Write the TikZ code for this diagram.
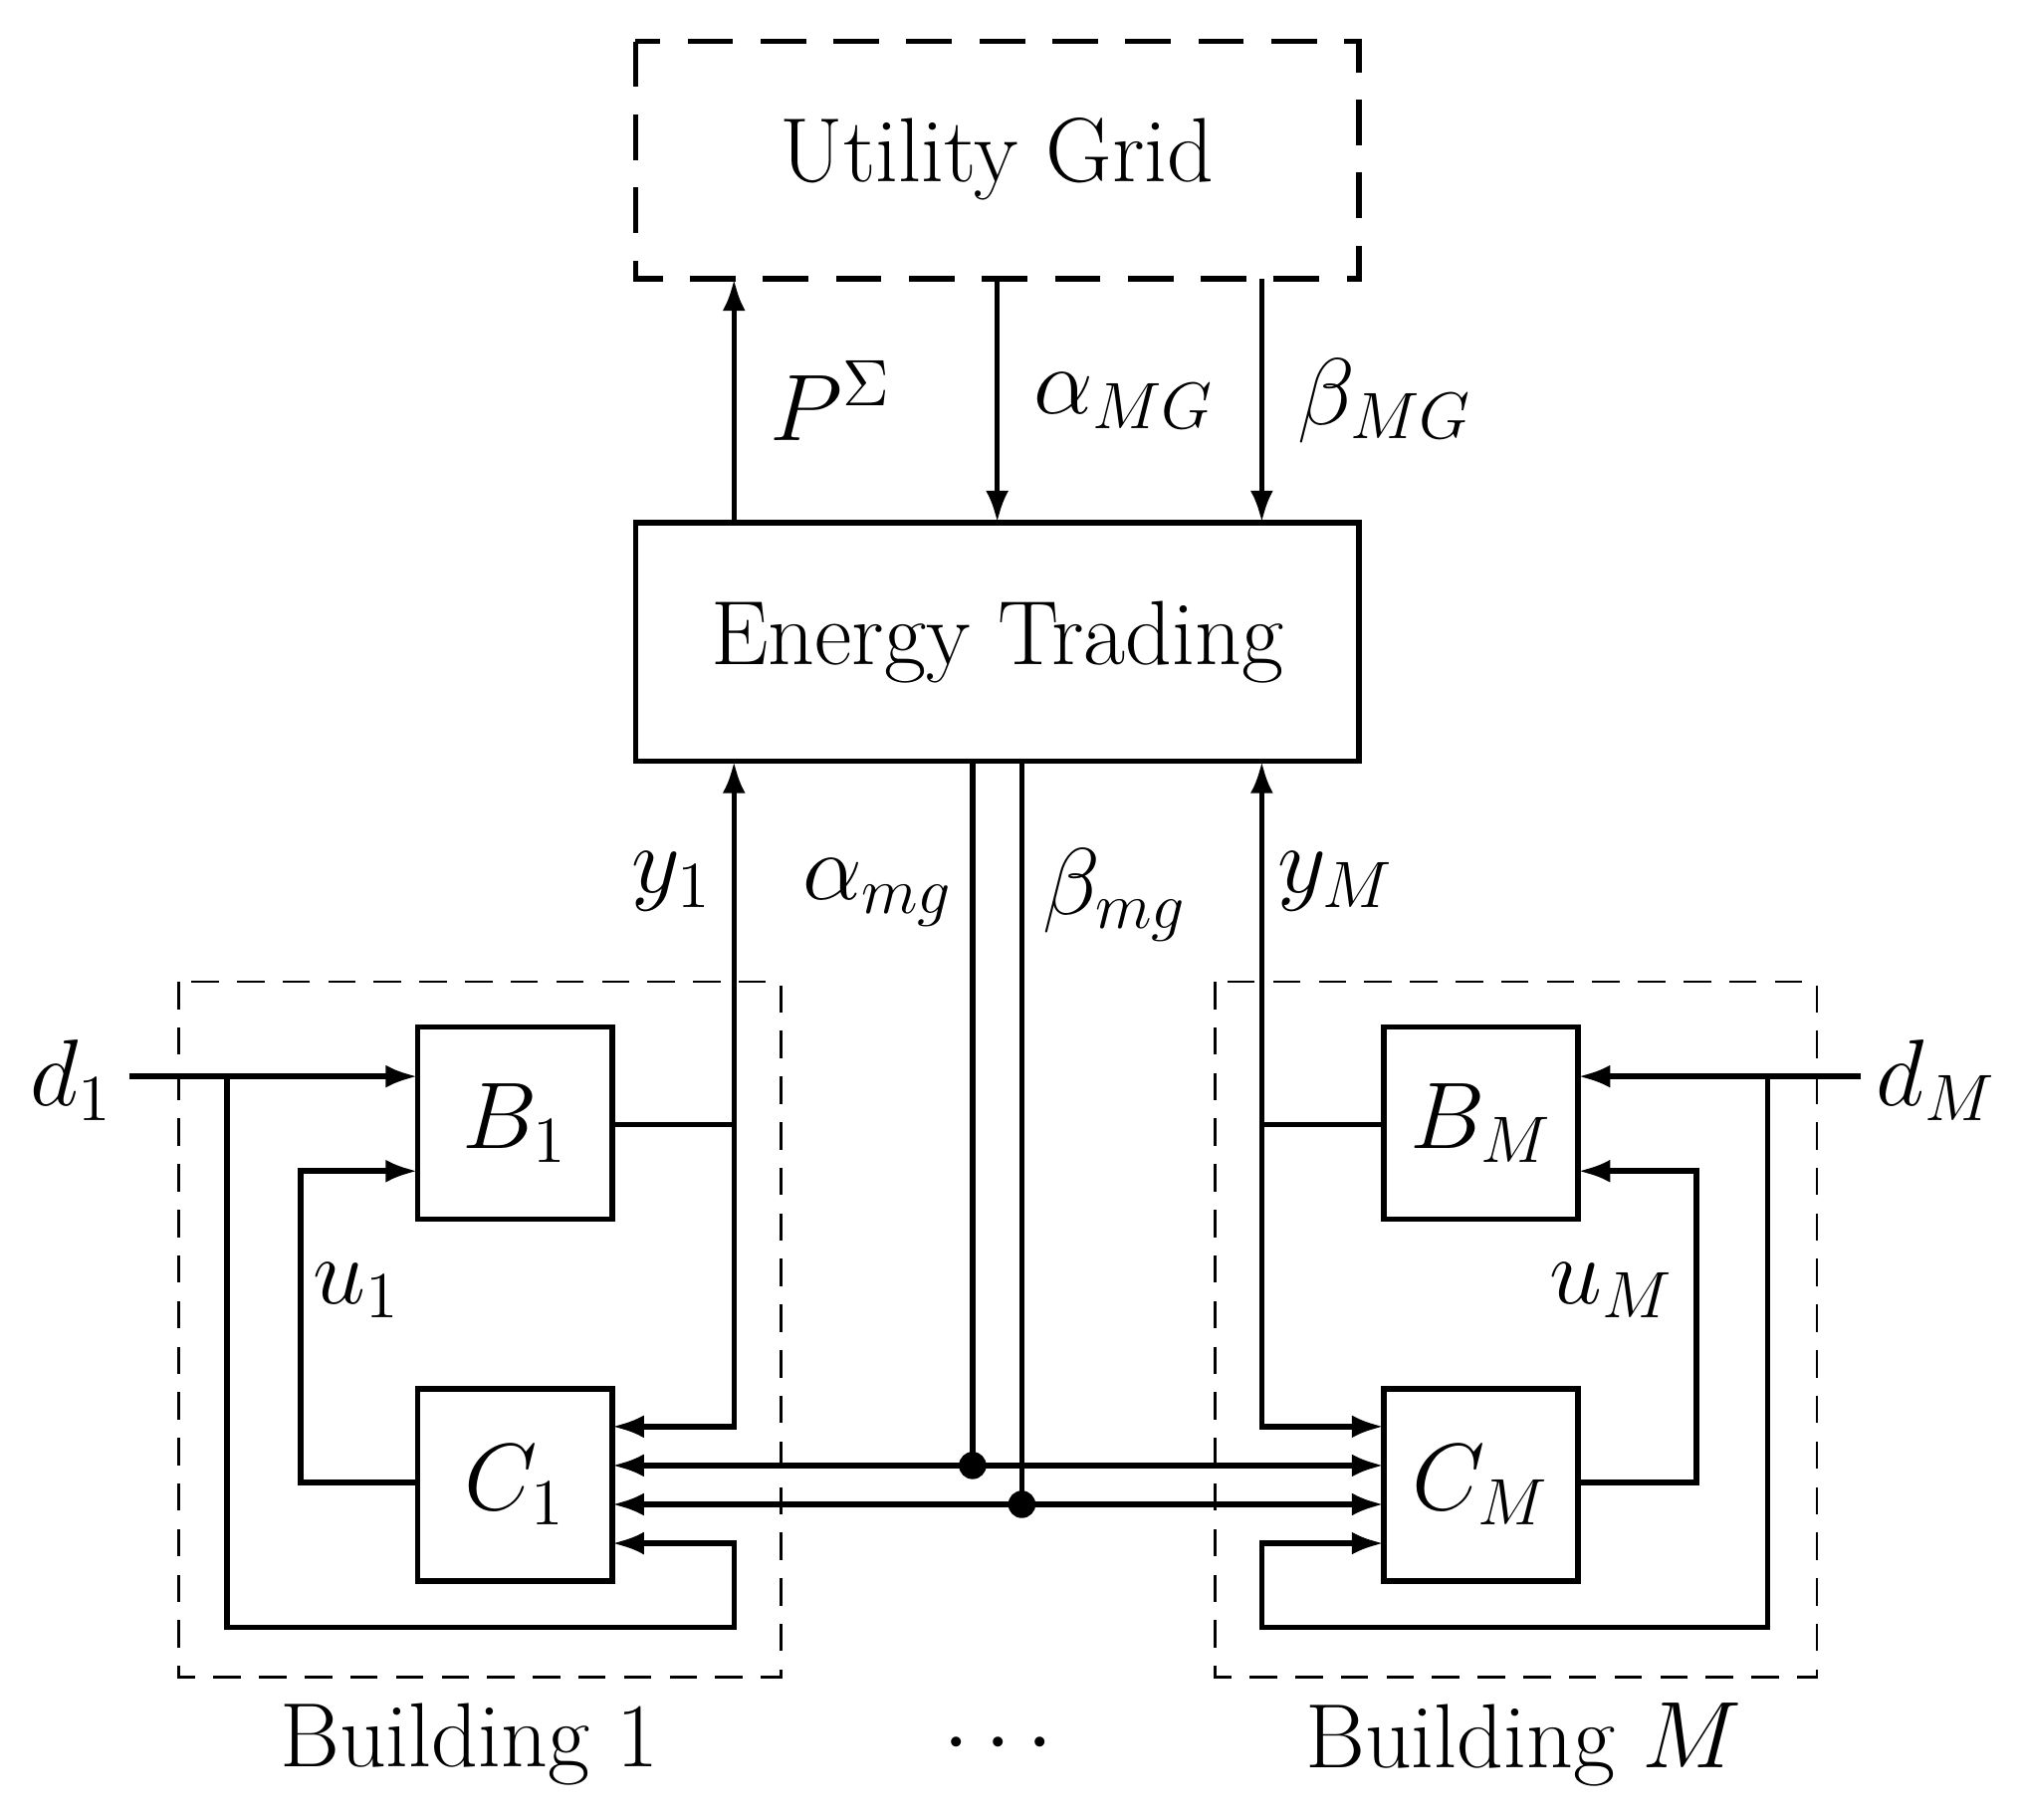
\documentclass[tikz,border=0pt]{standalone}
\usetikzlibrary{arrows.meta}
\begin{document}
\begin{tikzpicture}[x=0.01cm,y=-0.01cm,
  every node/.style={font=\fontsize{20}{24}\selectfont},
  blk/.style={draw,line width=1.2pt,inner sep=0pt},
  ln/.style={line width=1.2pt},
  ar/.style={ln,-{Latex[length=7pt,width=5pt]}},
  dar/.style={ln,{Latex[length=7pt,width=5pt]}-{Latex[length=7pt,width=5pt]}},
  dot/.style={circle,fill,inner sep=0pt,minimum size=6pt}]
\useasboundingbox (0,0) rectangle (1560,1403);
\draw[line width=1.2pt,dash pattern=on 10pt off 6pt] (490,32) rectangle (1048,215);
\node (ug) at (769,123) {Utility Grid};
\coordinate (ugb1) at (566,215); \coordinate (ugb2) at (769,215); \coordinate (ugb3) at (973,215);
\draw[blk] (490,403) rectangle (1048,587);
\node (et) at (769,495) {Energy Trading};
\draw[ar] (566,403) -- (ugb1) node[pos=0.5,right=4pt] {$P^{\Sigma}$};
\draw[ar] (ugb2) -- (769,403) node[pos=0.5,right=4pt] {$\alpha_{MG}$};
\draw[ar] (ugb3) -- (973,403) node[pos=0.5,right=4pt] {$\beta_{MG}$};
% buildings
\draw[dash pattern=on 6pt off 4pt,line width=0.6pt] (138,757) rectangle (602,1293);
\draw[dash pattern=on 6pt off 4pt,line width=0.6pt] (937,757) rectangle (1401,1293);
\node (bl1) at (362,1345) {Building 1};
\node (blM) at (1175,1345) {Building $M$};
\node (dots) at (770,1345) {$\cdots$};
\draw[blk] (322,792) rectangle (472,940); \node (B1) at (397,866) {$B_1$};
\draw[blk] (322,1071) rectangle (472,1219); \node (C1) at (397,1145) {$C_1$};
\draw[blk] (1067,792) rectangle (1217,940); \node (BM) at (1142,866) {$B_M$};
\draw[blk] (1067,1071) rectangle (1217,1219); \node (CM) at (1142,1145) {$C_M$};
% left
\node (d1) at (55,833) {$d_1$};
\draw[ar] (100,830) -- (322,830);
\draw[ar] (175,830) -- (175,1255) -- (566,1255) -- (566,1190) -- (472,1190);
\draw[ar] (322,1143) -- (232,1143) -- (232,903) -- (322,903);
\node at (275,995) {$u_1$};
\draw[ln] (472,867) -- (566,867);
\draw[ar] (566,867) -- (566,587);
\draw[ar] (566,867) -- (566,1100) -- (472,1100);
\node at (518,680) {$y_1$};
% right
\node (dM) at (1493,833) {$d_M$};
\draw[ar] (1435,830) -- (1217,830);
\draw[ar] (1363,830) -- (1363,1255) -- (973,1255) -- (973,1190) -- (1067,1190);
\draw[ar] (1217,1143) -- (1308,1143) -- (1308,903) -- (1217,903);
\node at (1243,995) {$u_M$};
\draw[ln] (1067,867) -- (973,867);
\draw[ar] (973,867) -- (973,587);
\draw[ar] (973,867) -- (973,1100) -- (1067,1100);
\node at (1030,680) {$y_M$};
% prices
\draw[dar] (472,1130) -- (1067,1130);
\draw[dar] (472,1160) -- (1067,1160);
\draw[ln] (750,587) -- (750,1130); \node[dot] at (750,1130) {};
\draw[ln] (788,587) -- (788,1160); \node[dot] at (788,1160) {};
\node at (677,688) {$\alpha_{mg}$};
\node at (860,690) {$\beta_{mg}$};
\end{tikzpicture}
\end{document}
